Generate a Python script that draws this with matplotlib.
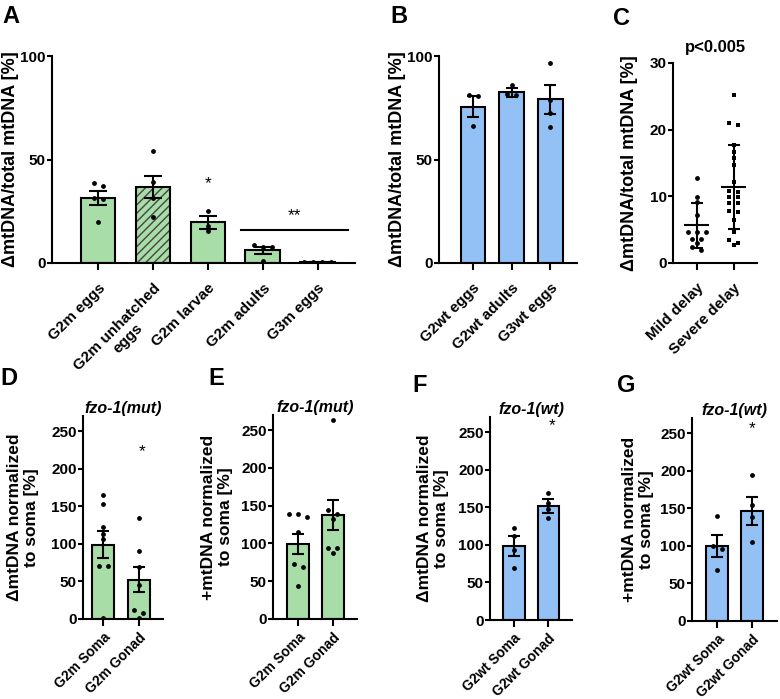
import numpy as np
import matplotlib
matplotlib.use("Agg")
import matplotlib.pyplot as plt

plt.rcParams['font.family'] = ['Liberation Sans', 'DejaVu Sans']
plt.rcParams['font.weight'] = 'bold'
plt.rcParams['hatch.linewidth'] = 1.0

GREEN = "#A8DDA8"
BLUE = "#93C1F5"

# panel A
a_labels = ["G2m eggs", "G2m unhatched\neggs", "G2m larvae", "G2m adults", "G3m eggs"]
a_mean = [31.4, 36.7, 19.7, 6.1, 0.3]
a_sem = [3.4, 5.3, 3.1, 1.6, 0.1]
a_points = [[38.8, 37.2, 31.6, 30.8, 19.6],
            [54.1, 39.3, 31.4, 22.0],
            [25.3, 18.0, 15.5],
            [8.7, 7.9, 7.9, 1.1],
            [0.4, 0.3, 0.4, 0.3]]

# panel B
b_labels = ["G2wt eggs", "G2wt adults", "G3wt eggs"]
b_mean = [75.6, 82.4, 79.1]
b_sem = [5.0, 2.0, 6.9]
b_points = [[81.0, 80.5, 66.0], [86.0, 81.7, 81.2], [96.8, 78.8, 72.3, 65.6]]

# panel C (mean +/- SD)
c_labels = ["Mild delay", "Severe delay"]
c_mild = [12.7, 9.95, 9.2, 7.2, 4.7, 4.6, 4.6, 3.65, 3.65, 3.0, 2.35, 2.0]
c_severe = [25.2, 21.05, 20.7, 17.7, 16.7, 15.7, 14.7, 12.2, 10.75, 10.7, 9.95,
            9.9, 9.0, 8.95, 7.8, 7.7, 6.45, 4.7, 3.45, 3.05, 2.7]

# panels D-G
mut_labels = ["G2m Soma", "G2m Gonad"]
wt_labels = ["G2wt Soma", "G2wt Gonad"]
d_mean = [99.0, 52.0]
d_sem = [18.5, 16.5]
d_points = [[165, 153, 123, 113, 106, 70, 70, 1], [134, 90, 69, 45, 12, 7.5, 1]]
e_mean = [99.5, 137.7]
e_sem = [13.2, 20.0]
e_points = [[139, 135, 139, 115, 73, 69, 44], [264, 144, 139, 132, 94, 94, 87.5]]
f_mean = [98.9, 151.5]
f_sem = [13.3, 9.5]
f_points = [[123, 112, 93, 69], [169, 156, 148, 136]]
g_mean = [100.0, 146.5]
g_sem = [15.0, 18.5]
g_points = [[139, 100, 96, 68], [194, 154, 138, 105.5]]

W, H = 780, 699
fig = plt.figure(figsize=(W / 100, H / 100), dpi=100)


def make_ax(left, top, right, bottom, xlim, ylim, xpad=8.0):
    ax = fig.add_axes([left / W, 1 - bottom / H, (right - left) / W, (bottom - top) / H])
    ax.set_xlim(*xlim)
    ax.set_ylim(*ylim)
    for s in ['top', 'right']:
        ax.spines[s].set_visible(False)
    for s in ['left', 'bottom']:
        ax.spines[s].set_linewidth(1.5)
    ax.tick_params(axis='y', length=3.5, width=1.5, pad=1, labelsize=11)
    ax.tick_params(axis='x', length=5, width=1.5, pad=xpad, labelsize=10.5)
    return ax


def spread(ax, vals, thr_px=4.0, step_px=9.0):
    # put points with nearly equal values side by side, like a column scatter
    bb = ax.get_position()
    x0, x1 = ax.get_xlim()
    y0, y1 = ax.get_ylim()
    px_x = bb.width * W / (x1 - x0)
    px_y = bb.height * H / (y1 - y0)
    vals = np.asarray(vals, float)
    order = np.argsort(-vals, kind='stable')
    offs = np.zeros(len(vals))
    rows, row = [], []
    for i in order:
        if row and (vals[row[0]] - vals[i]) * px_y > thr_px:
            rows.append(row)
            row = []
        row.append(i)
    rows.append(row)
    for r in rows:
        n = len(r)
        for k, i in enumerate(r):
            offs[i] = (k - (n - 1) / 2) * step_px / px_x
    return offs


def set_xlabels(ax, labels, size):
    ax.set_xticks(np.arange(len(labels)))
    ax.set_xticklabels(labels, rotation=45, ha='right', va='top', rotation_mode='anchor',
                       fontsize=size)
    for t in ax.get_xticklabels():
        t.set_multialignment('center')


def bar_panel(ax, labels, means, sems, points, color, capsize, width=0.62, hatched=(),
              xsize=11):
    x = np.arange(len(labels))
    for i in x:
        if i in hatched:
            ax.bar(i, means[i], width, color=color, edgecolor='#444444', linewidth=0,
                   hatch='////', zorder=2)
            ax.bar(i, means[i], width, fill=False, edgecolor='black', linewidth=1.5, zorder=3)
        else:
            ax.bar(i, means[i], width, color=color, edgecolor='black', linewidth=1.5, zorder=2)
    ax.errorbar(x, means, yerr=sems, fmt='none', ecolor='black', elinewidth=1.5,
                capsize=capsize, capthick=1.5, zorder=4)
    for i, pts in enumerate(points):
        ax.scatter(i + spread(ax, pts), pts, s=12, color='black', zorder=5, linewidths=0)
    set_xlabels(ax, labels, xsize)


def ylab(ax, text, off_px, size=13):
    ax.set_ylabel(text, fontsize=size, fontweight='bold', va='center')
    ax.yaxis.set_label_coords(-off_px / (ax.get_position().width * W), 0.5)


# A
axA = make_ax(52, 56, 355, 263, (-0.84, 4.68), (0, 100))
bar_panel(axA, a_labels, a_mean, a_sem, a_points, GREEN, 6.8, width=0.63, hatched=(1,))
axA.set_yticks([0, 50, 100])
ylab(axA, "ΔmtDNA/total mtDNA [%]", 41)
axA.text(2, 38.5, "*", ha='center', va='center', fontsize=12.5, fontweight='normal')
axA.plot([2.61, 4.55], [15.8, 15.8], color='black', lw=1.5)
axA.text(3.58, 22.9, "**", ha='center', va='center', fontsize=12.5, fontweight='normal')

# B
axB = make_ax(439, 56, 577, 263, (-0.88, 2.69), (0, 100))
bar_panel(axB, b_labels, b_mean, b_sem, b_points, BLUE, 4.6, width=0.63)
axB.set_yticks([0, 50, 100])
ylab(axB, "ΔmtDNA/total mtDNA [%]", 42)

# C
axC = make_ax(673, 63, 757, 263, (-0.65, 1.64), (0, 30))
for i, (pts, mk) in enumerate([(c_mild, 'o'), (c_severe, 's')]):
    pts = np.asarray(pts)
    m, sd = pts.mean(), pts.std(ddof=1)
    axC.scatter(i + spread(axC, pts), pts, s=12, marker=mk, color='black',
                linewidths=0, zorder=3)
    axC.hlines(m, i - 0.34, i + 0.34, color='black', lw=1.5, zorder=4)
    axC.errorbar([i], [m], yerr=[sd], fmt='none', ecolor='black', elinewidth=1.5,
                 capsize=4.2, capthick=1.5, zorder=4)
set_xlabels(axC, c_labels, 11)
axC.set_yticks([0, 10, 20, 30])
ylab(axC, "ΔmtDNA/total mtDNA [%]", 44)
axC.set_title("p<0.005", fontsize=12, fontweight='bold', pad=8)

# D-G
panels = [
    ((83, 416, 163, 619), (-0.57, 1.69), mut_labels, d_mean, d_sem, d_points, GREEN,
     "ΔmtDNA normalized\nto soma [%]", 60, "fzo-1(mut)", (1.1, 223)),
    ((273, 415, 357, 619), (-0.72, 1.69), mut_labels, e_mean, e_sem, e_points, GREEN,
     "+mtDNA normalized\nto soma [%]", 56, "fzo-1(mut)", None),
    ((490, 417, 572, 620), (-0.69, 1.68), wt_labels, f_mean, f_sem, f_points, BLUE,
     "ΔmtDNA normalized\nto soma [%]", 57, "fzo-1(wt)", (1.1, 258)),
    ((692, 418, 777, 621), (-0.71, 1.70), wt_labels, g_mean, g_sem, g_points, BLUE,
     "+mtDNA normalized\nto soma [%]", 54, "fzo-1(wt)", (1.0, 256)),
]
for box, xlim, labels, mean, sem, pts, col, yl, off, title, star in panels:
    ax = make_ax(*box, xlim, (0, 270), xpad=3.0)
    bar_panel(ax, labels, mean, sem, pts, col, 4.0, width=0.62, xsize=10)
    ax.set_yticks([0, 50, 100, 150, 200, 250])
    ylab(ax, yl, off, size=12.5)
    ax.set_title(title, fontsize=11.5, fontweight='bold', style='italic', pad=1)
    if star:
        ax.text(star[0], star[1], "*", ha='center', va='center', fontsize=12.5, fontweight='normal')

# panel letters
for letter, x, y in [("A", 2, 23), ("B", 390, 23), ("C", 613, 25), ("D", 0, 385),
                     ("E", 208, 385), ("F", 412, 392), ("G", 617, 392)]:
    fig.text(x / W, 1 - y / H, letter, fontsize=17, fontweight='bold', ha='left', va='baseline')

fig.savefig("out.png", dpi=100)
